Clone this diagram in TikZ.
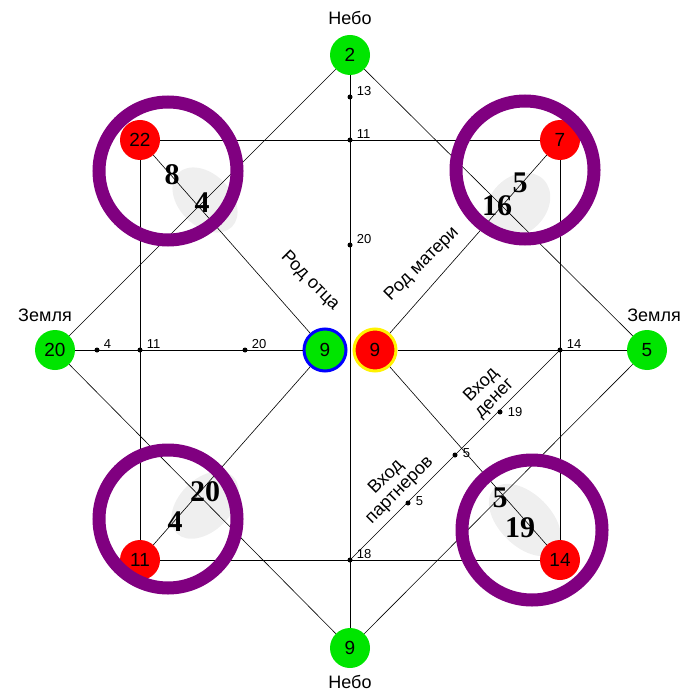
\documentclass[tikz,border=0pt]{standalone}
\usepackage{fontspec}
\setmainfont{Liberation Sans}
\newfontfamily\numfont{Liberation Serif}
\begin{document}
\begin{tikzpicture}[x=1pt,y=-1pt,
  ln/.style={black,line width=0.6pt},
  gn/.style={circle,fill=green!90!black,minimum size=40pt,inner sep=0pt,font=\fontsize{19}{19}\selectfont},
  rn/.style={circle,fill=red,minimum size=40pt,inner sep=0pt,font=\fontsize{19}{19}\selectfont},
  dot/.style={circle,fill=black,minimum size=5pt,inner sep=0pt},
  sm/.style={font=\fontsize{13}{13}\selectfont,anchor=south west,inner sep=1pt},
  ring/.style={draw={rgb,255:red,128;green,0;blue,128},line width=13pt},
  big/.style={font=\numfont\bfseries\fontsize{30}{30}\selectfont},
  lab/.style={font=\fontsize{18}{19}\selectfont,align=center},
  blur/.style={fill=black!8,opacity=0.8}]
\useasboundingbox (0,0) rectangle (700,700);
% blurs
\fill[blur,rotate around={-45:(205,200)}] (205,200) ellipse (38 and 26);
\fill[blur,rotate around={45:(518,205)}] (518,205) ellipse (36 and 28);
\fill[blur,rotate around={45:(205,505)}] (205,505) ellipse (40 and 26);
\fill[blur,rotate around={-45:(525,520)}] (525,520) ellipse (44 and 26);
% nodes
\node[gn] (top) at (350,55) {2};
\node[gn] (bot) at (350,648) {9};
\node[gn] (lft) at (55,350) {20};
\node[gn] (rgt) at (647,350) {5};
\node[rn] (tl) at (140,140) {22};
\node[rn] (tr) at (560,140) {7};
\node[rn] (bl) at (140,560) {11};
\node[rn] (br) at (560,560) {14};
\node[gn,draw=blue,line width=3pt,minimum size=42pt] (cb) at (325,350) {9};
\node[rn,draw=yellow,line width=3pt,minimum size=42pt] (cr) at (375,350) {9};
% dots
\node[dot] (v13) at (350,97) {};
\node[dot] (v11) at (350,140) {};
\node[dot] (v20) at (350,245) {};
\node[dot] (v18) at (350,560) {};
\node[dot] (h4) at (97,350) {};
\node[dot] (h11) at (140,350) {};
\node[dot] (h20) at (245,350) {};
\node[dot] (h14) at (560,350) {};
\node[dot] (d19) at (500,412) {};
\node[dot] (d5a) at (455,455) {};
\node[dot] (d5b) at (408,503) {};
\node[sm] at ([xshift=3pt]v13.east) {13};
\node[sm] at ([xshift=3pt]v11.east) {11};
\node[sm] at ([xshift=3pt]v20.east) {20};
\node[sm] at ([xshift=3pt]v18.east) {18};
\node[sm] at ([xshift=3pt]h4.east) {4};
\node[sm] at ([xshift=3pt]h11.east) {11};
\node[sm] at ([xshift=3pt]h20.east) {20};
\node[sm] at ([xshift=3pt]h14.east) {14};
\node[sm,anchor=west] at ([xshift=4pt]d19.east) {19};
\node[sm,anchor=west] at ([xshift=4pt,yshift=2pt]d5a.east) {5};
\node[sm,anchor=west] at ([xshift=4pt,yshift=2pt]d5b.east) {5};
% lines
\draw[ln] (top) -- (bot);
\draw[ln] (lft) -- (cb) (cr) -- (rgt);
\draw[ln] (tl) -- (tr) -- (br) -- (bl) -- (tl);
\draw[ln] (top) -- (rgt) -- (bot) -- (lft) -- (top);
\draw[ln] (tl) -- (cb) (bl) -- (cb) (tr) -- (cr) (br) -- (cr);
\draw[ln] (h14) -- (v18);
% rings
\draw[ring] (168,171) circle (69);
\draw[ring] (525,170) circle (69);
\draw[ring] (168,519) circle (69);
\draw[ring] (532,530) circle (70);
% bold numbers
\node[big] at (172,175) {8};
\node[big] at (202,203) {4};
\node[big] at (520,183) {5};
\node[big] at (497,206) {16};
\node[big] at (205,492) {20};
\node[big] at (175,522) {4};
\node[big] at (500,498) {5};
\node[big] at (520,528) {19};
% labels
\node[lab,rotate=-45] at (310,281) {Род отца};
\node[lab,rotate=45] at (422,264) {Род матери};
\node[lab,rotate=45] at (488,392) {Вход\\денег};
\node[lab,rotate=45] at (393,484) {Вход\\партнеров};
\node[lab] at (350,18) {Небо};
\node[lab] at (350,682) {Небо};
\node[lab] at (45,315) {Земля};
\node[lab] at (654,315) {Земля};
\end{tikzpicture}
\end{document}
